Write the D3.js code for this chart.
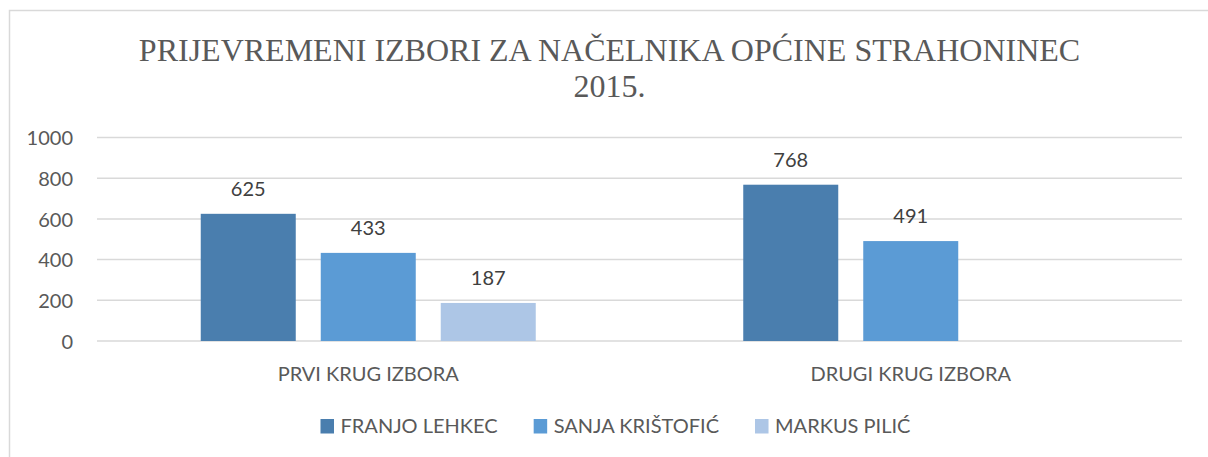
<!DOCTYPE html>
<html>
<head>
<meta charset="utf-8">
<script src="https://cdn.jsdelivr.net/npm/d3@7"></script>
<style>
html,body{margin:0;padding:0;background:#fff;}
svg{display:block;}
</style>
</head>
<body>
<svg id="chart" width="1208" height="457"></svg>
<script>
const categories = ["PRVI KRUG IZBORA", "DRUGI KRUG IZBORA"];
const seriesNames = ["FRANJO LEHKEC", "SANJA KRIŠTOFIĆ", "MARKUS PILIĆ"];
const franjo = [625, 768];
const sanja = [433, 491];
const markus = [187, null];
const yTicks = [0, 200, 400, 600, 800, 1000];
const titleLines = ["PRIJEVREMENI IZBORI ZA NAČELNIKA OPĆINE STRAHONINEC", "2015."];
const colors = ["#4a7eae", "#5b9bd5", "#adc6e6"];

const seriesValues = [franjo, sanja, markus];
const svg = d3.select("#chart");
const textColor = "#595959";
const font = "Lato, 'Open Sans', sans-serif";

// chart border
svg.append("rect").attr("x", 9.5).attr("y", 10.5).attr("width", 1210).attr("height", 460)
  .attr("fill", "#fff").attr("stroke", "#d9d9d9").attr("stroke-width", 1.5);

// title
const title = svg.append("text").attr("text-anchor", "middle")
  .attr("font-family", "'Liberation Serif', 'Times New Roman', serif")
  .attr("font-size", 32).attr("fill", textColor);
titleLines.forEach((t, i) => {
  title.append("tspan").attr("x", 609.5).attr("y", 61 + i * 36).text(t);
});

const plot = {left: 97, right: 1182, top: 137.5, bottom: 341};
const y = d3.scaleLinear().domain([0, 1000]).range([plot.bottom, plot.top]);
const x0 = d3.scaleBand().domain(categories).range([plot.left, plot.right]).padding(0);
const groupW = 335;
const x1 = d3.scaleBand().domain(seriesNames).range([0, groupW]).paddingInner(25 / 120).paddingOuter(0);

// gridlines
svg.append("g").selectAll("line").data(yTicks).join("line")
  .attr("x1", plot.left).attr("x2", plot.right)
  .attr("y1", d => y(d)).attr("y2", d => y(d))
  .attr("stroke", "#d9d9d9").attr("stroke-width", 1.5);

// y axis labels
const yAxis = d3.axisLeft(y).tickValues(yTicks).tickFormat(d3.format("d")).tickSize(0).tickPadding(0);
const ya = svg.append("g").attr("transform", `translate(73,0)`).call(yAxis);
ya.select(".domain").remove();
ya.selectAll("text").attr("font-family", font).attr("font-size", 20).attr("fill", textColor)
  .attr("dy", "0.36em");

// bars
const groups = svg.append("g").selectAll("g").data(categories).join("g")
  .attr("transform", c => `translate(${x0(c) + (x0.bandwidth() - groupW) / 2},0)`);
groups.each(function(c, ci) {
  const g = d3.select(this);
  const data = seriesNames.map((s, si) => ({s, si, v: seriesValues[si][ci]})).filter(d => d.v != null);
  g.selectAll("rect").data(data).join("rect")
    .attr("x", d => x1(d.s)).attr("width", x1.bandwidth())
    .attr("y", d => y(d.v)).attr("height", d => y(0) - y(d.v))
    .attr("fill", d => colors[d.si]);
  g.selectAll("text").data(data).join("text")
    .attr("x", d => x1(d.s) + x1.bandwidth() / 2).attr("y", d => y(d.v) - 18)
    .attr("text-anchor", "middle").attr("font-family", font).attr("font-size", 20)
    .attr("fill", "#404040").text(d => d.v);
});

// x axis labels
const xAxis = d3.axisBottom(x0).tickSize(0).tickPadding(0);
const xa = svg.append("g").attr("transform", `translate(0,381)`).call(xAxis);
xa.select(".domain").remove();
xa.selectAll("text").attr("font-family", font).attr("font-size", 20).attr("fill", textColor)
  .attr("dy", 0);

// legend
const legend = svg.append("g");
let lx = 320.5;
seriesNames.forEach((name, i) => {
  const item = legend.append("g").attr("transform", `translate(${lx},0)`);
  item.append("rect").attr("x", 0).attr("y", 419).attr("width", 13.5).attr("height", 14.5)
    .attr("fill", colors[i]);
  const t = item.append("text").attr("x", 20).attr("y", 433.3).attr("font-family", font)
    .attr("font-size", 20).attr("fill", textColor).text(name);
  lx += 20 + t.node().getComputedTextLength() + 36;
});
</script>
</body>
</html>
